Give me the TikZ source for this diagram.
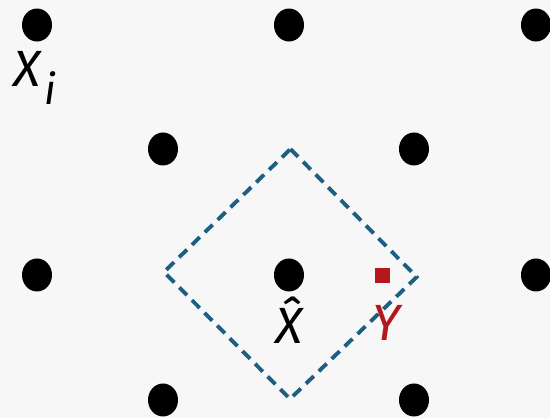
\documentclass[tikz,border=0pt]{standalone}
\usepackage{fontspec}
\setmainfont{Fira Sans}
\usetikzlibrary{shapes.geometric}
\definecolor{bgcol}{HTML}{F7F7F7}
\definecolor{cellblue}{HTML}{1D5F80}
\definecolor{ptred}{HTML}{B3191C}
\tikzset{
  lattice/.style={ellipse, fill=black, minimum width=0.30cm, minimum height=0.33cm, inner sep=0pt},
  lbl/.style={font=\fontsize{14.5}{17}\selectfont\itshape, inner sep=0pt}
}
\begin{document}
\begin{tikzpicture}
    \fill[bgcol] (0, 0) rectangle (5.5, 4.18);
    \useasboundingbox (0, 0) rectangle (5.5, 4.18);

    \foreach \x/\y/\n in {0.37/3.93/a, 2.89/3.93/b, 5.36/3.93/c,
                          1.63/2.69/d, 4.14/2.69/e,
                          0.37/1.43/f, 2.89/1.43/g, 5.36/1.43/h,
                          1.63/0.18/i, 4.14/0.18/j} {
      \node[lattice] (p\n) at (\x, \y) {};
    }

    \coordinate (top) at (2.905, 2.69);
    \coordinate (left) at (1.64, 1.46);
    \coordinate (bottom) at (2.90, 0.19);
    \coordinate (right) at (4.167, 1.41);
    \draw[cellblue, line width=1.1pt, dash pattern=on 3.1pt off 2pt]
      (top) -- (right) -- (bottom) -- (left) -- cycle;

    \node[fill=ptred, minimum size=0.15cm, inner sep=0pt] (y) at (3.83, 1.42) {};

    \node[lbl] (xi) at (0.35, 3.40) {X\kern1pt\raisebox{-0.7ex}{\fontsize{12}{14}\selectfont i}};
    \node[lbl] (xhat) at (2.89, 0.98) {\^{X}};
    \node[lbl, text=ptred] (ylab) at (3.86, 0.95) {Y};
  \end{tikzpicture}
\end{document}
